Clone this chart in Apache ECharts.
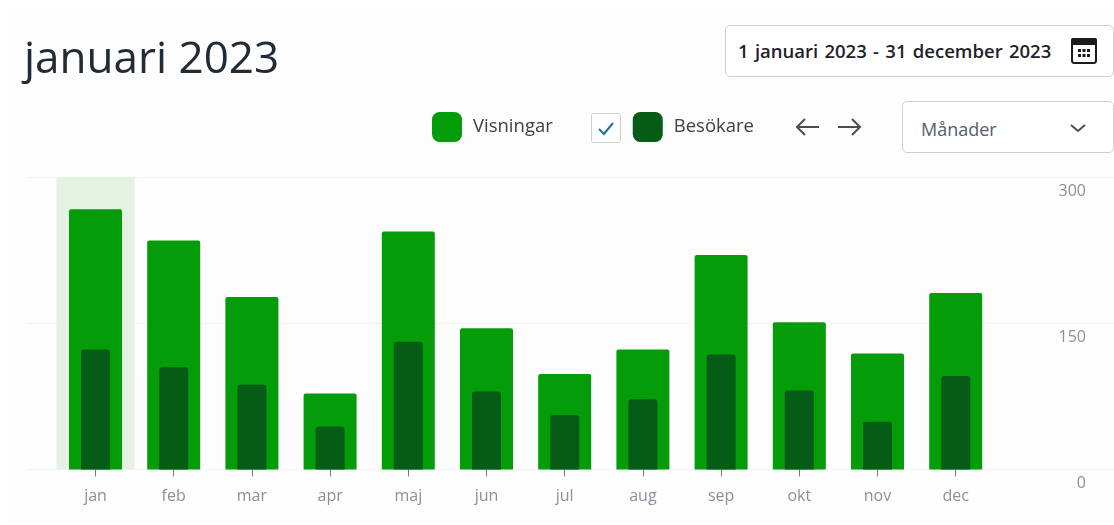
<!DOCTYPE html>
<html lang="sv">
<head>
<meta charset="utf-8">
<title>januari 2023</title>
<script src="https://cdn.jsdelivr.net/npm/echarts@6/dist/echarts.min.js"></script>
<style>
  * { box-sizing: border-box; }
  html, body { margin: 0; padding: 0; background: #fff; font-family: "Open Sans", sans-serif; }
  .page { position: relative; width: 1114px; height: 525px; overflow: hidden; }
  .panel { position: absolute; left: 8px; top: 8px; right: 0; bottom: 2px; background: #fdfdfd; }
  #chart { position: absolute; left: 0; top: 0; width: 1114px; height: 525px; }
  .title { position: absolute; left: 24px; top: 28px; font-size: 44px; line-height: 56px; color: #222a33; }
  .box { position: absolute; background: #fff; border: 1px solid #cfcfd2; border-radius: 5px; }
  .range { left: 725px; top: 25px; width: 389px; height: 52px; font-size: 18.5px; font-weight: 600; line-height: 50px; padding-left: 12px; color: #1e2329; white-space: pre; word-spacing: 1.5px; }
  .select { left: 902px; top: 101px; width: 212px; height: 52px; font-size: 18px; line-height: 54px; padding-left: 18px; color: #555d68; }
  .icon { position: absolute; }
</style>
</head>
<body>
<div class="page">
  <div class="panel"></div>
  <div id="chart"></div>
  <div class="title">januari 2023</div>
  <div class="box range">1 januari 2023 - 31 december 2023</div>
  <svg class="icon" style="left:1070px;top:37px" width="28" height="28" viewBox="0 0 28 28">
    <rect x="2" y="2" width="24" height="24" rx="2.5" fill="#fff" stroke="#1b1b1b" stroke-width="2"/>
    <rect x="1" y="1" width="26" height="7" rx="2" fill="#1b1b1b"/>
    <path d="M8 12h3v3H8zM12.5 12h3v3h-3zM17 12h3v3h-3zM8 17h3v3H8zM12.5 17h3v3h-3zM17 17h3v3h-3z" fill="#1b1b1b"/>
  </svg>
  <svg class="icon" style="left:591px;top:113px" width="30" height="30" viewBox="0 0 30 30">
    <rect x="0.5" y="0.5" width="29" height="29" rx="2" fill="#fff" stroke="#d0d0d3"/>
    <path d="M8 16l5 5 9-11" fill="none" stroke="#1f6f9c" stroke-width="2"/>
  </svg>
  <svg class="icon" style="left:794px;top:114px" width="70" height="26" viewBox="0 0 70 26">
    <path d="M25 13H3M11 5l-8 8 8 8M44 13h22M58 5l8 8-8 8" fill="none" stroke="#4a4d52" stroke-width="2"/>
  </svg>
  <div class="box select">Månader</div>
  <svg class="icon" style="left:1069px;top:122px" width="18" height="12" viewBox="0 0 18 12">
    <path d="M2 3l7 6 7-6" fill="none" stroke="#4a4d52" stroke-width="2"/>
  </svg>
</div>

<script>
  const months = ['jan', 'feb', 'mar', 'apr', 'maj', 'jun', 'jul', 'aug', 'sep', 'okt', 'nov', 'dec'];
  const visningar = [267, 235, 177, 78, 244, 145, 98, 123, 220, 151, 119, 181];
  const besokare = [123, 105, 87, 44, 131, 80, 56, 72, 118, 81, 49, 96];
  // januari is the selected month
  const selected = [300, null, null, null, null, null, null, null, null, null, null, null];
  const axisMax = 300;
  const axisStep = 150;

  const hiddenX = {
    type: 'category',
    gridIndex: 0,
    data: months,
    show: false,
  };

  const chart = echarts.init(document.getElementById('chart'));
  chart.setOption({
    animation: false,
    backgroundColor: 'transparent',
    textStyle: { fontFamily: '"Open Sans", sans-serif' },
    legend: {
      left: 432,
      top: 112,
      padding: 0,
      itemWidth: 30,
      itemHeight: 30,
      itemGap: 80,
      selectedMode: false,
      data: ['Visningar', 'Besökare'],
      textStyle: { fontSize: 18.5, color: '#3a4049', padding: [0, 0, 2, 6] },
    },
    grid: [
      // bars
      { left: 56.4, width: 938.4, top: 177, height: 292.5 },
      // full width gridlines and right hand labels
      { left: 27, right: 0, top: 177, height: 292.5 },
    ],
    xAxis: [
      {
        type: 'category',
        gridIndex: 0,
        data: months,
        position: 'bottom',
        offset: 2,
        axisLine: { show: false },
        axisTick: { show: true, alignWithLabel: true, length: 7, lineStyle: { color: '#777777', width: 1 } },
        axisLabel: { fontSize: 16, margin: 17, color: '#8a909a' },
      },
      hiddenX,
      hiddenX,
      { type: 'category', gridIndex: 1, show: false, data: months },
    ],
    yAxis: [
      { type: 'value', gridIndex: 0, min: 0, max: axisMax, interval: axisStep, show: false },
      {
        type: 'value',
        gridIndex: 1,
        position: 'right',
        min: 0,
        max: axisMax,
        interval: axisStep,
        axisLine: { show: false },
        axisTick: { show: false },
        splitLine: { show: true, lineStyle: { color: '#f3f3f3', width: 1 } },
        axisLabel: {
          inside: true,
          margin: 28,
          align: 'right',
          verticalAlign: 'top',
          padding: [6, 0, 0, 0],
          fontSize: 16,
          color: '#8a909a',
        },
      },
    ],
    series: [
      {
        name: 'valt',
        type: 'bar',
        xAxisIndex: 1,
        yAxisIndex: 0,
        data: selected,
        barWidth: '100%',
        itemStyle: { color: '#e4f2e4' },
        silent: true,
      },
      {
        name: 'Visningar',
        type: 'bar',
        xAxisIndex: 2,
        yAxisIndex: 0,
        data: visningar,
        barWidth: 53,
        itemStyle: { color: '#059c0a', borderRadius: [2, 2, 0, 0] },
      },
      {
        name: 'Besökare',
        type: 'bar',
        xAxisIndex: 0,
        yAxisIndex: 0,
        data: besokare,
        barWidth: 29,
        itemStyle: { color: '#045c17', borderRadius: [3, 3, 0, 0] },
      },
    ],
  });
</script>
</body>
</html>
